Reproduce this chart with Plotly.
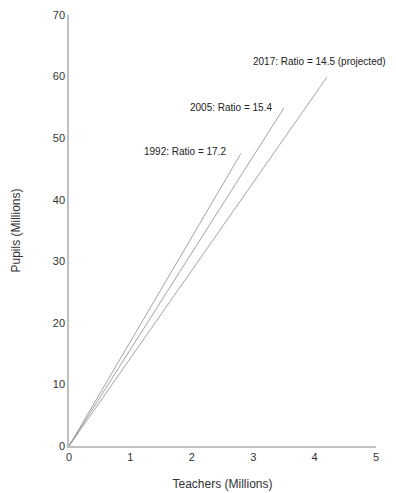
import plotly.graph_objects as go

years = ["1992", "2005", "2017"]
labels = ["1992: Ratio = 17.2", "2005: Ratio = 15.4", "2017: Ratio = 14.5 (projected)"]
teachers_end = [2.8, 3.5, 4.2]
pupils_end = [47.5, 54.9, 59.9]
label_x = [2.59, 3.34, 2.97]
label_y = [47.8, 55.0, 62.4]
label_anchor = ["right", "right", "left"]

fig = go.Figure()
for i, y in enumerate(years):
    fig.add_trace(go.Scatter(x=[0, teachers_end[i]], y=[0, pupils_end[i]], mode="lines",
                             line=dict(color="#8c8c8c", width=0.8), name=y, showlegend=False,
                             hoverinfo="skip"))
    fig.add_annotation(x=label_x[i], y=label_y[i], text=labels[i], showarrow=False,
                       xanchor=label_anchor[i], yanchor="middle",
                       font=dict(family="Liberation Sans, Arial", size=10, color="#222"))

fig.update_layout(
    width=388, height=485,
    margin=dict(l=61, r=20, t=7, b=47),
    paper_bgcolor="white", plot_bgcolor="white",
    font=dict(family="Liberation Sans, Arial", size=11, color="#333"),
    xaxis=dict(range=[0, 5], dtick=1, showgrid=False, zeroline=False, showline=True,
               linecolor="#c0c0c0", linewidth=1.5, ticks="", automargin=False,
               tickfont=dict(color="#333", size=11),
               title=dict(text="Teachers (Millions)", standoff=18, font=dict(size=12, color="#333"))),
    yaxis=dict(range=[0, 70], dtick=10, showgrid=False, zeroline=False, showline=True,
               linecolor="#c0c0c0", linewidth=1.5, ticks="", automargin=False,
               tickfont=dict(color="#333", size=11),
               title=dict(text="Pupils (Millions)", standoff=30, font=dict(size=12, color="#333"))),
)
fig.write_html("out.html")
